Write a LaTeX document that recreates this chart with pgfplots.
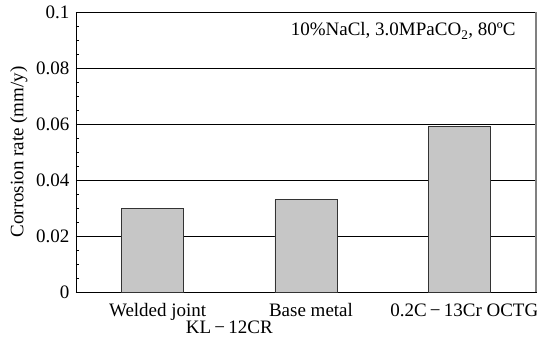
\documentclass[border=0pt]{standalone}
\usepackage{fontspec}
\setmainfont{Liberation Serif}
\usepackage{pgfplots}
\pgfplotsset{compat=1.18}

\begin{document}
\begin{tikzpicture}[font=\fontsize{19bp}{22bp}\selectfont]
\useasboundingbox (-76bp,-53bp) rectangle (461bp,292bp);
\begin{axis}[
  at={(0,0)}, anchor=south west,
  scale only axis,
  width=460bp, height=280bp,
  clip=false,
  xmin=-0.5, xmax=2.5,
  ymin=0, ymax=0.1,
  ytick={0,0.02,0.04,0.06,0.08,0.1},
  yticklabels={0,0.02,0.04,0.06,0.08,0.1},
  minor y tick num=3,
  ymajorgrids,
  grid style={black, line width=0.7bp},
  ytick pos=left,
  tick align=inside,
  major tick length=4bp,
  minor tick length=3bp,
  tick style={black, line width=0.6bp},
  xtick={0,1,2},
  xticklabels={Welded joint, Base metal, 0.2C\,−\,13Cr OCTG},
  x tick style={draw=none},
  extra x ticks={0.5,1.5},
  extra x tick labels={},
  extra x tick style={x tick style={black, line width=0.6bp}, xtick pos=bottom, major tick length=4bp},
  xticklabel style={yshift=-4bp, xshift=5bp},
  yticklabel style={xshift=-3bp},
  /pgf/number format/assume math mode=true,
  axis line style={black, line width=0.8bp},
  ylabel={Corrosion rate (mm/y)},
  ylabel style={at={(rel axis cs:0,0.5)}, anchor=south, yshift=45bp},
  ybar, bar width=0.405,
]
\addplot[fill=gray!45, draw=black!80, line width=0.8bp]
  coordinates {(0,0.030) (1,0.033) (2,0.059)};
\draw[gray, line width=1.6bp] (rel axis cs:1,0) -- (rel axis cs:1,1);
\node[anchor=base east] at ([xshift=-17bp, yshift=-24bp]rel axis cs:1,1)
  {10\%NaCl, 3.0MPaCO\textsubscript{2}, 80ºC};
\node[anchor=base] at ([yshift=-41bp]axis cs:0.5,0) {KL\,−\,12CR};
\end{axis}
\end{tikzpicture}
\end{document}
